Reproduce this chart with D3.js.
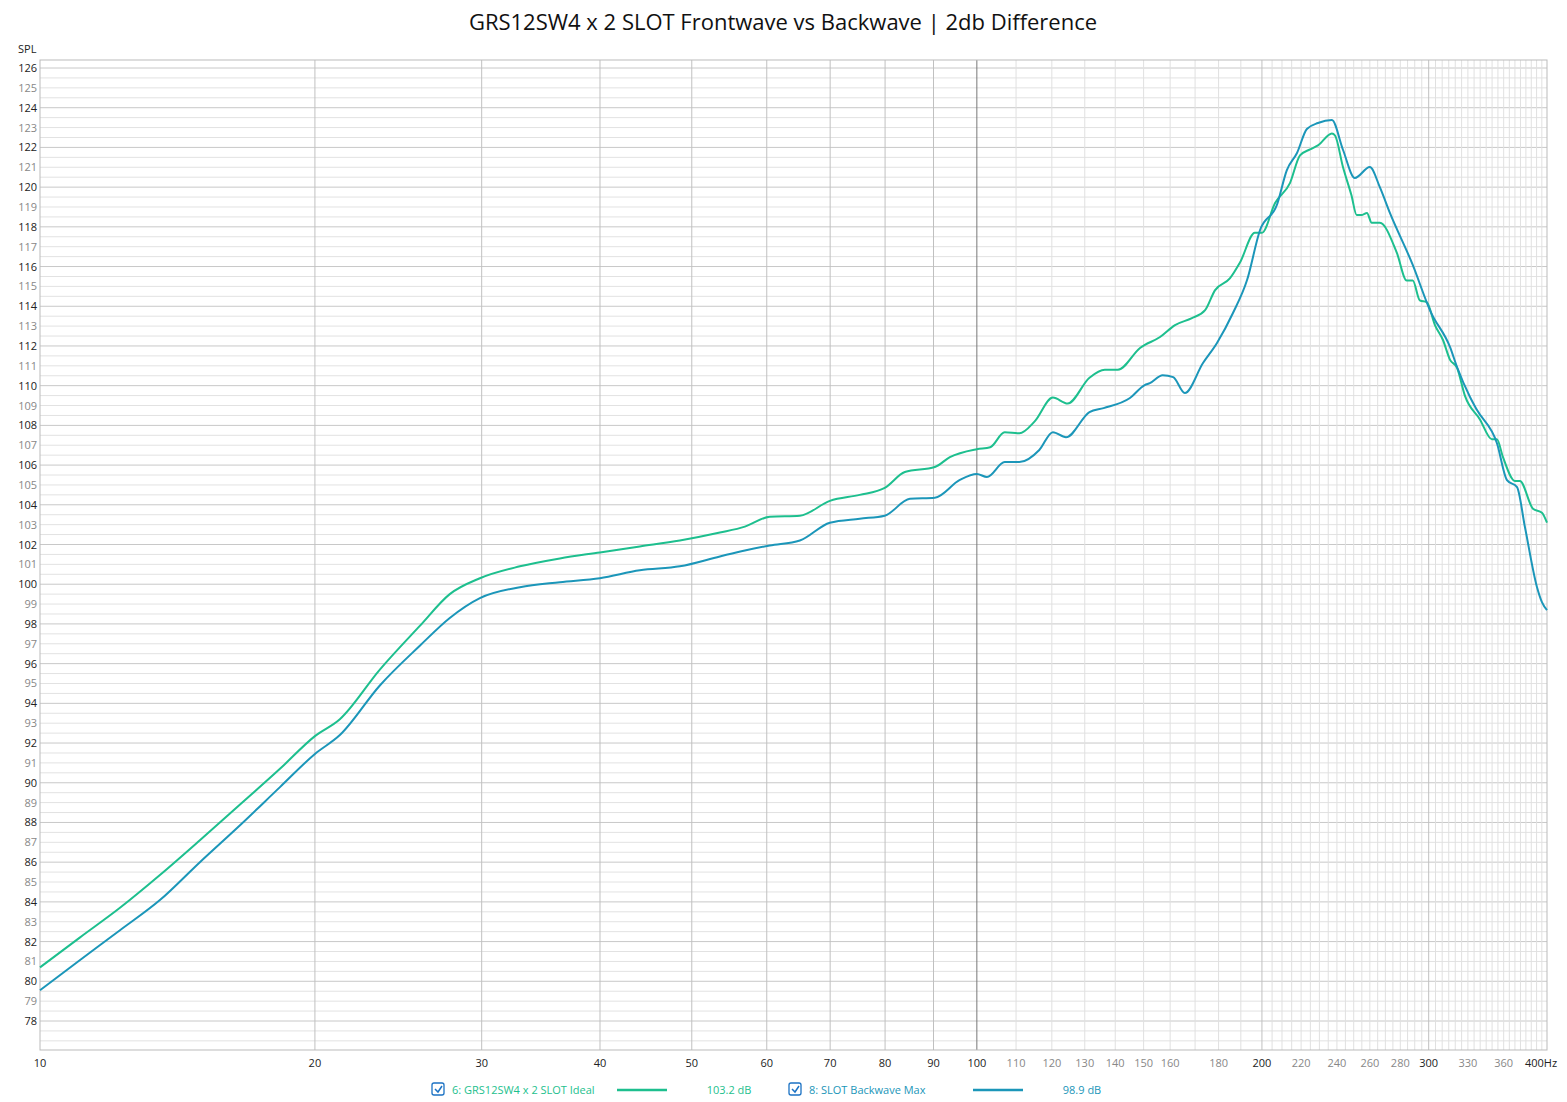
<!DOCTYPE html>
<html><head><meta charset="utf-8">
<script src="https://cdn.jsdelivr.net/npm/d3@7/dist/d3.min.js"></script>
<style>body{margin:0;background:#fff;font-family:"Open Sans","Noto Sans",sans-serif}</style>
</head><body><svg id="c" width="1567" height="1102"></svg>
<script>
const title = "GRS12SW4 x 2 SLOT Frontwave vs Backwave | 2db Difference";
const frontFreq = [10.25,11.29,12.45,13.72,15.12,16.67,18.37,20.0,21.25,23.42,25.81,27.76,29.87,32.92,36.28,39.99,44.07,48.57,53.54,56.89,60.44,65.03,69.95,75.22,79.94,83.94,90.29,93.65,100,103.3,107.0,110.9,115.1,120.3,124.7,131.5,136.5,140.9,148.7,156.1,161.9,168.7,174.2,178.4,185.0,189.6,196.6,200.0,206.5,214.1,219.4,224.8,229.2,237.1,238.9,243.6,248.6,251.8,255.1,258.2,261.2,266.4,277.6,284.4,288.6,293.6,298.7,304.6,310.6,316.0,321.4,327.6,339.8,349.9,354.1,359.4,370.0,374.5,386.6,395.1,400];
const frontDb = [80.7,82.2,83.7,85.35,87.1,88.9,90.7,92.35,93.2,95.7,97.9,99.5,100.3,100.9,101.3,101.6,101.9,102.2,102.6,102.9,103.4,103.45,104.2,104.5,104.85,105.65,105.9,106.4,106.8,106.9,107.65,107.6,108.2,109.4,109.1,110.4,110.8,110.8,111.9,112.45,113.05,113.4,113.8,114.8,115.4,116.2,117.7,117.7,119.2,120.2,121.6,121.9,122.1,122.7,122.6,121.0,119.6,118.6,118.6,118.7,118.2,118.2,116.7,115.3,115.3,114.3,114.2,113.05,112.3,111.3,110.9,109.5,108.3,107.3,107.3,106.4,105.2,105.2,103.8,103.6,103.1];
const backFreq = [10.25,11.29,12.45,13.72,15.12,16.67,18.37,20.0,21.25,23.42,25.81,27.76,29.87,32.92,36.28,39.99,44.07,48.57,53.54,56.89,60.44,65.03,69.95,75.22,79.94,84.97,90.29,95.95,100,102.5,107.0,110.9,116.4,120.3,124.2,131.5,136.1,145.1,150.4,152.3,157.1,161.2,165.8,173.3,179.3,186.4,192.9,199.1,207.4,212.5,217.8,223.1,229.2,237.1,243.6,250.7,260.0,266.4,273.0,288.6,299.4,300.9,316.0,321.4,331.7,337.4,354.1,362.9,371.9,379.1,390.4,395.1,400];
const backDb = [79.55,81.06,82.57,84.09,86.0,87.86,89.78,91.45,92.4,94.9,96.9,98.3,99.3,99.85,100.1,100.3,100.7,100.9,101.4,101.7,101.95,102.2,103.1,103.3,103.45,104.3,104.35,105.25,105.55,105.4,106.15,106.15,106.76,107.66,107.4,108.67,108.87,109.38,110.03,110.13,110.53,110.43,109.63,111.14,112.15,113.66,115.32,117.84,119.1,120.86,121.72,122.93,123.23,123.38,121.87,120.46,121.01,120.0,118.7,116.08,114.06,113.81,111.94,110.94,109.43,108.77,107.11,105.24,104.89,102.88,99.85,99.1,98.7];
const xTicks = [10,20,30,40,50,60,70,80,90,100,110,120,130,140,150,160,180,200,220,240,260,280,300,330,360,400];
const xDark = [10,20,30,40,50,60,70,80,90,100,200,300,400];
const legendNames = ["6: GRS12SW4 x 2 SLOT Ideal","8: SLOT Backwave Max"];
const legendValues = ["103.2 dB","98.9 dB"];
const colors = ["#1dbf8e","#1b96b9"];

const svg = d3.select("#c");
const L=40,R=1547,T=60,B=1050;
const x = d3.scaleLog().domain([10.25,400]).range([L,R]);
const y = d3.scaleLinear().domain([78,126]).range([1021,68]);

svg.append("text").attr("x",783).attr("y",30).attr("text-anchor","middle")
  .attr("font-size",22).attr("fill","#111").text(title);
svg.append("text").attr("x",18).attr("y",53).attr("font-size",11).attr("fill","#222").text("SPL");

const g = svg.append("g");
for (let v=76.5; v<=126.01; v+=0.5){
  const yy=y(v); if (yy<T||yy>B) continue;
  g.append("line").attr("x1",L).attr("x2",R).attr("y1",yy).attr("y2",yy)
   .attr("stroke", Number.isInteger(v/2)? "#c8c8c8":"#e2e2e2").attr("stroke-width",1);
}
const vx=[];
for (let f=20; f<=100; f+=10) vx.push(f);
for (let f=110; f<200; f+=10) vx.push(f);
for (let f=200; f<400; f+=5) vx.push(f);
vx.forEach(f=>{
  const major=[20,30,40,50,60,70,80,90,200,300].includes(f);
  g.append("line").attr("x1",x(f)).attr("x2",x(f)).attr("y1",T).attr("y2",B)
   .attr("stroke", f===100?"#777": major?"#c0c0c0":"#e0e0e0").attr("stroke-width",1);
});
g.append("rect").attr("x",L).attr("y",T).attr("width",R-L).attr("height",B-T)
 .attr("fill","none").attr("stroke","#bbb");

d3.range(78,127).forEach(v=>{
  svg.append("text").attr("x",37).attr("y",y(v)+4).attr("text-anchor","end")
   .attr("font-size",11).attr("fill", v%2===0?"#222":"#888").text(v);
});
xTicks.forEach(f=>{
  const t = f===400?"400Hz":String(f);
  const px = f===10 ? L : (f===400 ? x(f)-6 : x(f));
  svg.append("text").attr("x",px).attr("y",1067)
   .attr("text-anchor","middle").attr("font-size",11)
   .attr("fill", xDark.includes(f)?"#222":"#888").text(t);
});

const line = d3.line().x(d=>x(d[0])).y(d=>y(d[1])).curve(d3.curveMonotoneX);
svg.append("path").datum(frontFreq.map((f,i)=>[f,frontDb[i]]))
  .attr("d",line).attr("fill","none").attr("stroke",colors[0]).attr("stroke-width",2);
svg.append("path").datum(backFreq.map((f,i)=>[f,backDb[i]]))
  .attr("d",line).attr("fill","none").attr("stroke",colors[1]).attr("stroke-width",2);

const lx=[432,789], ll=[617,973], lv=[729,1082];
legendNames.forEach((n,i)=>{
  const lg=svg.append("g");
  lg.append("rect").attr("x",lx[i]).attr("y",1083).attr("width",12).attr("height",12).attr("rx",2)
    .attr("fill","#fff").attr("stroke","#1b72c4").attr("stroke-width",1.3);
  lg.append("path").attr("d",`M${lx[i]+3},${1089} l3,3 l4,-6`).attr("fill","none").attr("stroke","#1b72c4").attr("stroke-width",1.5);
  lg.append("text").attr("x",lx[i]+20).attr("y",1094).attr("font-size",11).attr("fill",colors[i]).text(n);
  lg.append("line").attr("x1",ll[i]).attr("x2",ll[i]+50).attr("y1",1090).attr("y2",1090).attr("stroke",colors[i]).attr("stroke-width",2.5);
  lg.append("text").attr("x",lv[i]).attr("y",1094).attr("text-anchor","middle").attr("font-size",11).attr("fill",colors[i]).text(legendValues[i]);
});
</script></body></html>
